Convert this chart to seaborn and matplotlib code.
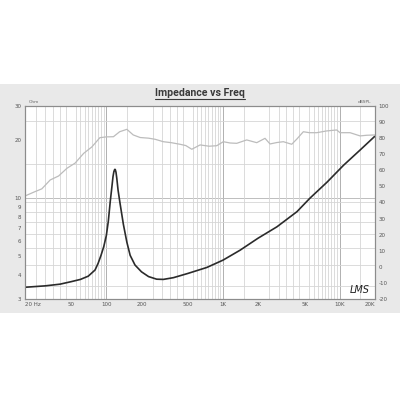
import numpy as np
import pandas as pd
import matplotlib
matplotlib.use("Agg")
import matplotlib.pyplot as plt
import seaborn as sns
from matplotlib.ticker import FixedLocator, NullFormatter
from matplotlib.patches import Rectangle
from matplotlib.lines import Line2D

# ---------------- data ----------------
freq_imp = [20, 30, 40, 50, 60, 70, 80, 85, 90, 95, 100, 104, 108, 111.5,
            114, 116, 117.5, 118.5, 119.5, 121, 123, 126, 131, 140, 150, 160,
            176, 200, 230, 270, 308, 376, 500, 726, 1000, 1400, 2000, 2900,
            4300, 5570, 7800, 10800, 14900, 20000]
impedance = [3.45, 3.51, 3.58, 3.69, 3.79, 3.94, 4.24, 4.59, 5.05, 5.6, 6.4,
             7.6, 9.6, 11.4, 12.9, 13.7, 14.0, 14.1, 14.0, 13.6, 12.6, 11.0,
             9.4, 7.3, 5.9, 5.05, 4.5, 4.15, 3.92, 3.8, 3.79, 3.87, 4.07, 4.37,
             4.77, 5.37, 6.2, 7.1, 8.5, 10.0, 12.1, 14.8, 17.7, 20.9]

freq_spl = [20, 24, 28, 33, 39, 46, 54, 64, 75, 88, 100, 115, 130, 150, 170,
            195, 230, 262, 308, 360, 428, 480, 540, 636, 760, 883, 1006, 1150,
            1311, 1596, 1945, 2291, 2529, 2900, 3289, 3882, 4300, 4880, 5500,
            6357, 7740, 9434, 10070, 12280, 14960, 17000, 20000]
spl = [44.0, 46.5, 48.5, 54.0, 56.5, 61.3, 64.5, 70.6, 74.5, 80.3, 80.8, 80.9,
       84.0, 85.5, 82.0, 80.4, 80.0, 79.3, 77.8, 77.2, 76.2, 75.4, 73.1, 75.8,
       75.0, 75.3, 77.8, 77.0, 76.8, 78.9, 77.2, 79.9, 76.4, 77.3, 77.8, 76.2,
       79.5, 84.0, 83.4, 83.4, 84.5, 85.1, 83.4, 83.4, 81.4, 81.8, 82.0]

x_ticks = [20, 50, 100, 200, 500, 1000, 2000, 5000, 10000, 20000]
x_labels = ["20 Hz", "50", "100", "200", "500", "1K", "2K", "5K", "10K", "20K"]
ohm_ticks = [3, 4, 5, 6, 7, 8, 9, 10, 20, 30]
ohm_labels = ["3", "4", "5", "6", "7", "8", "9", "10", "20", "30"]
db_ticks = [-20, -10, 0, 10, 20, 30, 40, 50, 60, 70, 80, 90, 100]
db_labels = [str(v) for v in db_ticks]

title = "Impedance vs Freq"

# ---------------- figure ----------------
sns.set_theme(style="white")
plt.rcParams['font.family'] = ['DejaVu Sans']

fig = plt.figure(figsize=(4, 4), dpi=100)
fig.patch.set_facecolor('white')
fig.patches.append(Rectangle((0, 0.2175), 1, 0.5725, transform=fig.transFigure,
                             facecolor='#e9e9e9', edgecolor='none', zorder=-10))

ax = fig.add_axes([0.062, 0.2525, 0.875, 0.4825])
ax.set_facecolor('white')
ax.set_xscale('log')
ax.set_yscale('log')
ax.set_xlim(20, 20000)
ax.set_ylim(3, 30)

# grid lines on half-mantissa steps
grid_x = [m * 10 ** k for k in range(1, 5) for m in np.arange(1, 10, 0.5)
          if 20 <= m * 10 ** k <= 20000]
grid_y = [m * 10 ** k for k in range(0, 2) for m in np.arange(1, 10, 0.5)
          if 3 <= m * 10 ** k <= 30]
ax.xaxis.set_minor_locator(FixedLocator(grid_x))
ax.yaxis.set_minor_locator(FixedLocator(grid_y))
ax.xaxis.set_minor_formatter(NullFormatter())
ax.yaxis.set_minor_formatter(NullFormatter())
ax.grid(which='minor', axis='both', color='#d6d6d6', lw=0.6)
ax.grid(which='major', visible=False)
for d in [100, 1000, 10000]:
    ax.axvline(d, color='#b0b0b0', lw=0.7, zorder=0.5)
ax.axhline(10, color='#bdbdbd', lw=0.7, zorder=0.5)

ax.set_xticks(x_ticks)
ax.set_xticklabels(x_labels)
ax.set_yticks(ohm_ticks)
ax.set_yticklabels(ohm_labels)
ax.tick_params(which='both', length=0)
ax.tick_params(axis='x', labelsize=4, pad=2.5, colors='#555555')
ax.tick_params(axis='y', labelsize=4, pad=2.5, colors='#555555')
lbls = ax.get_xticklabels()
lbls[0].set_ha('left')
lbls[-1].set_ha('right')

sns.lineplot(x=freq_imp, y=impedance, ax=ax, color='#2b2b2b', lw=1.2,
             sort=False, zorder=3)

ax2 = ax.twinx()
ax2.set_ylim(-20, 100)
ax2.set_yticks(db_ticks)
ax2.set_yticklabels(db_labels)
ax2.tick_params(which='both', length=0, labelsize=4, pad=2.5, colors='#555555')
ax2.grid(False)
sns.lineplot(x=freq_spl, y=spl, ax=ax2, color='#bcbcbc', lw=0.9, sort=False)
ax.set_xlim(20, 20000)

for a in (ax, ax2):
    for s in a.spines.values():
        s.set_color('#8c8c8c')
        s.set_linewidth(0.8)
    a.set_xlabel('')
    a.set_ylabel('')

ax.text(0.01, 1.008, "Ohm", transform=ax.transAxes, fontsize=3.2,
        color='#666666', ha='left', va='bottom')
ax.text(0.99, 1.008, "dBSPL", transform=ax.transAxes, fontsize=3.2,
        color='#666666', ha='right', va='bottom')
ax.text(0.985, 0.02, "LMS", transform=ax.transAxes, fontsize=7,
        style='italic', color='#222222', ha='right', va='bottom', zorder=5)

t = fig.text(0.5, 0.768, title, ha='center', va='center', fontsize=7.6,
             fontweight='bold', color='#3a3a3a', family=['Roboto', 'DejaVu Sans'])
fig.canvas.draw()
bb = t.get_window_extent()
fw, fh = fig.get_size_inches() * fig.dpi
y_ul = (bb.y0 - 0.8) / fh
fig.lines.append(Line2D([bb.x0 / fw, bb.x1 / fw], [y_ul, y_ul],
                        transform=fig.transFigure, color='#3a3a3a', lw=0.8))

fig.savefig("out.png", dpi=100)
